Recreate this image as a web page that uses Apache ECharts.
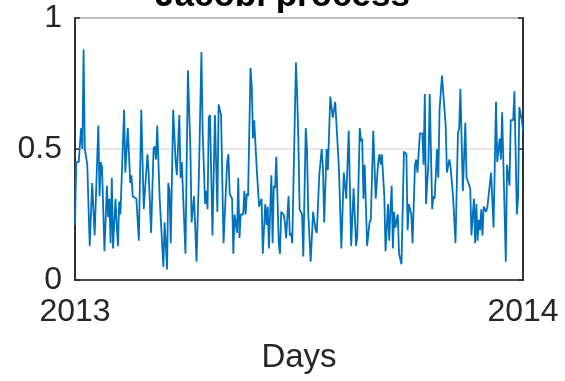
<!DOCTYPE html>
<html>
<head>
<meta charset="utf-8">
<style>
  html, body { margin: 0; padding: 0; background: #fff; }
  #chart { width: 565px; height: 381px; }
</style>
<script src="https://cdn.jsdelivr.net/npm/echarts@6/dist/echarts.min.js"></script>
</head>
<body>
<div id="chart"></div>
<script>
// day-of-year sample positions and process values
const days = [
  0, 1, 3, 5, 6, 7, 8, 10, 12, 14, 16, 17, 19, 20, 21, 22, 24, 26, 27, 28, 29, 30, 31, 33, 34, 35, 36,
  37, 40, 41, 43, 45, 46, 47, 50, 52, 54, 56, 59, 60, 62, 64, 65, 66, 67, 69, 72, 73,
  75, 76, 77, 78, 80, 82, 83, 85, 86, 87, 90, 92, 94, 95, 97, 99, 101, 103, 104, 106, 107, 108, 109,
  110, 112, 114, 116, 117, 119, 121, 123, 124, 125, 126, 128, 129, 130, 132, 133, 134, 135, 137, 138, 139, 140, 141, 143,
  144, 145, 146, 148, 150, 152, 153, 155, 156, 157, 158, 160, 161, 162, 163, 164, 166, 167, 168, 170, 171, 172, 174, 175, 176, 177, 180,
  181, 182, 183, 185, 186, 188, 189, 190, 192, 194, 196, 197, 199, 201, 202, 203, 205, 206, 208, 210, 212, 215, 217, 219,
  221, 223, 225, 226, 227, 229, 230, 232, 233, 234, 235, 236, 238, 240, 241, 243, 245, 247, 248, 249, 250, 252, 253, 255, 256, 257,
  258, 259, 260, 261, 263, 264, 266, 268, 270, 271, 272, 274, 275, 277, 278, 279, 281, 282, 283, 284, 285, 286, 288, 289, 291, 292, 293,
  295, 296, 297, 299, 302, 303, 305, 306, 308, 310, 312, 313, 314, 316, 318, 319, 320, 322, 323, 325, 326, 327, 328, 329,
  330, 331, 332, 333, 335, 336, 337, 339, 341, 343, 344, 346, 347, 348, 351, 352, 354, 355, 357, 358, 360, 361, 362, 364, 365
];
const values = [
  0.21, 0.45, 0.45, 0.58, 0.50, 0.88, 0.50, 0.44, 0.13, 0.37, 0.17, 0.17, 0.59, 0.32, 0.45, 0.43, 0.11, 0.36, 0.24, 0.31, 0.14, 0.39, 0.12, 0.31, 0.21, 0.13, 0.30,
  0.25, 0.65, 0.41, 0.58, 0.37, 0.40, 0.32, 0.31, 0.15, 0.65, 0.27, 0.48, 0.41, 0.18, 0.50, 0.51, 0.46, 0.59, 0.31, 0.05, 0.22,
  0.04, 0.37, 0.34, 0.14, 0.65, 0.45, 0.40, 0.63, 0.39, 0.45, 0.10, 0.80, 0.50, 0.22, 0.32, 0.07, 0.41, 0.87, 0.57, 0.29, 0.34, 0.27, 0.62,
  0.63, 0.17, 0.63, 0.26, 0.67, 0.63, 0.14, 0.35, 0.45, 0.48, 0.33, 0.31, 0.10, 0.25, 0.18, 0.39, 0.16, 0.25, 0.25, 0.34, 0.25, 0.33, 0.32, 0.81,
  0.74, 0.54, 0.61, 0.43, 0.28, 0.31, 0.10, 0.29, 0.21, 0.28, 0.12, 0.40, 0.14, 0.36, 0.35, 0.47, 0.14, 0.10, 0.26, 0.25, 0.22, 0.16, 0.32, 0.17, 0.18, 0.14, 0.83,
  0.71, 0.53, 0.27, 0.25, 0.09, 0.58, 0.50, 0.26, 0.07, 0.26, 0.19, 0.18, 0.40, 0.50, 0.43, 0.22, 0.50, 0.42, 0.70, 0.62, 0.68, 0.43, 0.12, 0.41,
  0.31, 0.57, 0.13, 0.13, 0.35, 0.13, 0.17, 0.58, 0.53, 0.54, 0.31, 0.44, 0.13, 0.22, 0.23, 0.57, 0.31, 0.45, 0.48, 0.44, 0.48, 0.32, 0.11, 0.29, 0.15, 0.27,
  0.36, 0.12, 0.26, 0.20, 0.25, 0.10, 0.06, 0.49, 0.48, 0.19, 0.29, 0.25, 0.14, 0.44, 0.46, 0.41, 0.56, 0.56, 0.56, 0.44, 0.71, 0.29, 0.45, 0.71, 0.27, 0.32, 0.31,
  0.50, 0.39, 0.65, 0.78, 0.59, 0.41, 0.46, 0.43, 0.32, 0.14, 0.56, 0.58, 0.73, 0.34, 0.60, 0.39, 0.39, 0.35, 0.17, 0.31, 0.14, 0.29, 0.15, 0.23,
  0.19, 0.27, 0.17, 0.28, 0.26, 0.28, 0.28, 0.41, 0.20, 0.68, 0.45, 0.54, 0.46, 0.64, 0.07, 0.44, 0.36, 0.61, 0.61, 0.72, 0.25, 0.32, 0.66, 0.61, 0.57
];
const xTickLabels = { 0: '2013', 365: '2014' };
const yTicks = [0, 0.5, 1];

const chart = echarts.init(document.getElementById('chart'));
const axisColor = '#262626';
const font = 'Liberation Sans, Helvetica, Arial, sans-serif';

chart.setOption({
  animation: false,
  title: {
    text: 'Jacobi process',
    left: 'center',
    top: -26,
    textStyle: { fontFamily: font, fontSize: 35, fontWeight: 'bold', color: '#000' }
  },
  grid: {
    left: 75, right: 42, top: 18, bottom: 101,
    show: true, borderColor: axisColor, borderWidth: 1.5, backgroundColor: '#fff'
  },
  xAxis: {
    type: 'value',
    min: 0, max: 365, interval: 365,
    name: 'Days',
    nameLocation: 'middle',
    nameGap: 61,
    nameTextStyle: { fontFamily: font, fontSize: 33, color: axisColor },
    axisLine: { lineStyle: { color: axisColor, width: 1.5 } },
    axisTick: { show: false },
    splitLine: { show: false },
    axisLabel: {
      margin: 16,
      fontFamily: font, fontSize: 32, color: axisColor,
      formatter: v => xTickLabels[v] || ''
    }
  },
  yAxis: [{
    type: 'value',
    min: 0, max: 1, interval: 0.5,
    axisLine: { show: true, lineStyle: { color: axisColor, width: 1.5 } },
    axisTick: { show: true, inside: true, length: 5, lineStyle: { color: axisColor, width: 1.5 } },
    splitLine: { show: true, lineStyle: { color: '#dfdfdf', width: 1.5 } },
    axisLabel: {
      margin: 13,
      fontFamily: font, fontSize: 32, color: axisColor,
      formatter: v => (yTicks.includes(v) ? String(v) : '')
    }
  }, {
    type: 'value',
    position: 'right',
    min: 0, max: 1, interval: 0.5,
    axisLine: { show: true, lineStyle: { color: axisColor, width: 1.5 } },
    axisTick: { show: true, inside: true, length: 5, lineStyle: { color: axisColor, width: 1.5 } },
    splitLine: { show: false },
    axisLabel: { show: false }
  }],
  series: [{
    type: 'line',
    data: days.map((d, i) => [d, values[i]]),
    showSymbol: false,
    symbol: 'none',
    lineStyle: { color: '#0072BD', width: 1.8 },
    z: 3
  }]
});
</script>
</body>
</html>
